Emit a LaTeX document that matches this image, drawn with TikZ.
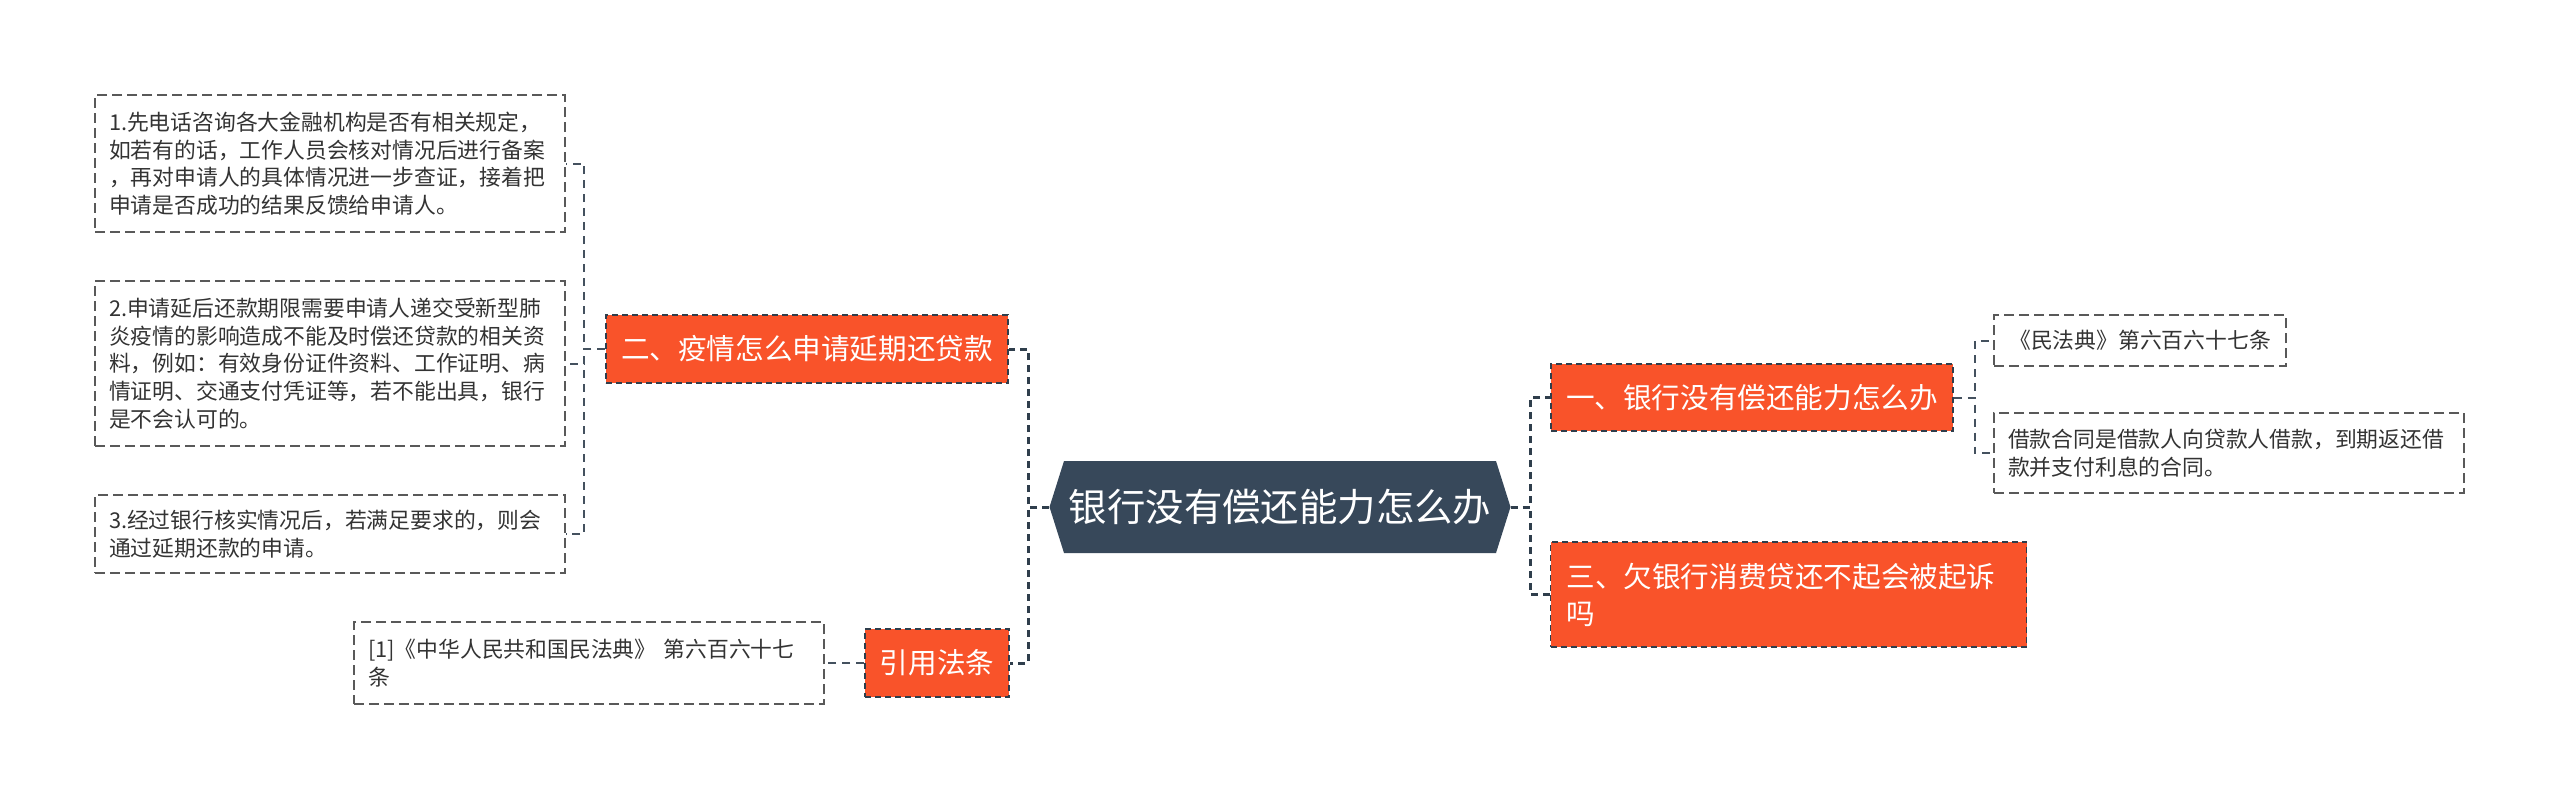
\documentclass[tikz,border=0pt]{standalone}
\usepackage{fontspec}
\setmainfont{Noto Sans CJK SC}
\usetikzlibrary{shapes.symbols}
\definecolor{slate}{HTML}{37485A}
\definecolor{topicred}{HTML}{F9532A}
\definecolor{linedark}{HTML}{2F3E4C}
\definecolor{textgray}{HTML}{333333}
\tikzset{
  root/.style={shape=signal, signal to=west and east, signal pointer angle=145,
    fill=slate, text=white, font=\fontsize{19.2pt}{23pt}\selectfont,
    minimum width=230.5pt, minimum height=46pt, inner sep=0pt},
  topic/.style={fill=topicred, draw=linedark, dash pattern=on 3pt off 2pt,
    line width=0.8pt, text=white, font=\fontsize{14.3pt}{18.5pt}\selectfont,
    inner sep=0pt, minimum height=34pt},
  leaf/.style={draw=black!65, dash pattern=on 5pt off 2.5pt, line width=0.7pt,
    text=textgray, font=\fontsize{10.9pt}{13.8pt}\selectfont,
    inner xsep=7pt, inner ysep=0pt},
  link/.style={draw=linedark, line width=1.5pt, dash pattern=on 3.5pt off 2.5pt},
  twig/.style={draw=linedark!90, line width=1pt, dash pattern=on 4pt off 3pt},
}
\begin{document}
\begin{tikzpicture}[x=0.5pt,y=-0.5pt]
    \useasboundingbox (0,0) rectangle (2560,798);
    \node[root] (root) at (1280,507) {银行没有偿还能力怎么办};
    \node[topic, minimum width=201pt] (b2) at (807,349) {二、疫情怎么申请延期还贷款};
    \node[topic, minimum width=72pt] (cite) at (937,663) {引用法条};
    \node[topic, minimum width=201pt, minimum height=33.5pt] (b1) at (1752,397.5) {一、银行没有偿还能力怎么办};
    \node[topic, text width=222pt, inner xsep=8pt, minimum height=52.5pt, align=left] (b3) at (1788.5,594.5)
        {三、欠银行消费贷还不起会被起诉\\吗};
    \node[leaf, text width=221pt, align=left, minimum height=68.5pt] (l1) at (330,163.5)
        {1.先电话咨询各大金融机构是否有相关规定，\\如若有的话，工作人员会核对情况后进行备案\\，再对申请人的具体情况进一步查证，接着把\\申请是否成功的结果反馈给申请人。};
    \node[leaf, text width=221pt, align=left, minimum height=82.5pt] (l2) at (330,363.5)
        {2.申请延后还款期限需要申请人递交受新型肺\\炎疫情的影响造成不能及时偿还贷款的相关资\\料，例如：有效身份证件资料、工作证明、病\\情证明、交通支付凭证等，若不能出具，银行\\是不会认可的。};
    \node[leaf, text width=221pt, align=left, minimum height=39pt] (l3) at (330,534)
        {3.经过银行核实情况后，若满足要求的，则会\\通过延期还款的申请。};
    \node[leaf, text width=221pt, align=left, minimum height=41pt] (ref) at (589,663)
        {[1]《中华人民共和国民法典》 第六百六十七\\条};
    \node[leaf, minimum width=146pt, minimum height=25.5pt] (law) at (2140,340.5) {《民法典》第六百六十七条};
    \node[leaf, text width=221pt, align=left, minimum height=40pt] (loan) at (2229,453)
        {借款合同是借款人向贷款人借款，到期返还借\\款并支付利息的合同。};
    \draw[link] (root.west) -- ++(-21,0) |- (b2.east);
    \draw[link] (root.west) -- ++(-21,0) |- (cite.east);
    \draw[link] (root.east) -- ++(20,0) |- (b1.west);
    \draw[link] (root.east) -- ++(20,0) |- (b3.west);
    \draw[twig] (b2.west) -- ++(-21,0) |- (l1.east);
    \draw[twig] (b2.west) -- ++(-21,0) |- (l2.east);
    \draw[twig] (b2.west) -- ++(-21,0) |- (l3.east);
    \draw[twig] (cite.west) -- (ref.east);
    \draw[twig] (b1.east) -- ++(21,0) |- (law.west);
    \draw[twig] (b1.east) -- ++(21,0) |- (loan.west);
\end{tikzpicture}
\end{document}
